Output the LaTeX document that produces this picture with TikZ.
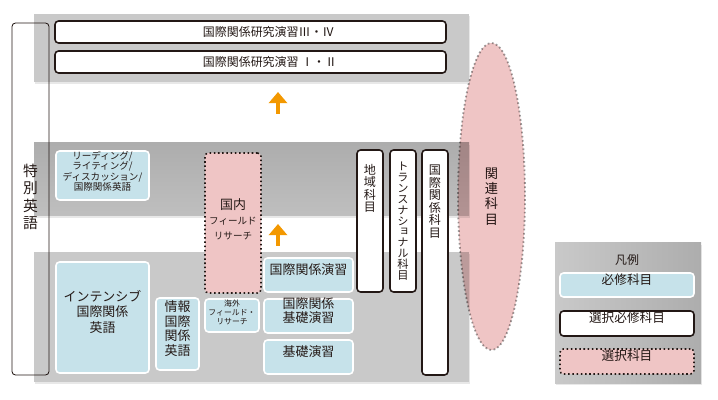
\documentclass[tikz,border=0pt]{standalone}
\usepackage{fontspec}
\setmainfont{Noto Sans CJK JP}
\newfontfamily\vfont[RawFeature=+vert]{Noto Sans CJK JP}
\usetikzlibrary{arrows.meta,positioning,shapes.geometric,fit,shadows}
\tikzset{>=Stealth}
\definecolor{reqblue}{HTML}{C6E2EA}
\definecolor{selpink}{HTML}{EFC5C5}
\definecolor{inkdark}{HTML}{231815}
\definecolor{panelgray}{HTML}{C9C9C9}
\definecolor{bandgray}{HTML}{ADADAD}
\definecolor{dotgray}{HTML}{A0A0A0}
\definecolor{arroworange}{HTML}{F39800}

\begin{document}
\begin{tikzpicture}[x=0.025cm, y=-0.025cm,
    every node/.style={font=\fontsize{8.5}{10}\selectfont, text=inkdark},
    box/.style={rounded corners=2.5pt, inner sep=0pt, align=center},
    req/.style={box, fill=reqblue, draw=white, line width=1.1pt},
    selreq/.style={box, fill=white, draw=inkdark, line width=1.1pt},
    elect/.style={box, fill=selpink, draw=inkdark, line width=1.1pt, dash pattern=on 1.1pt off 1.9pt},
    panel/.style={drop shadow={shadow xshift=1pt, shadow yshift=-1.5pt, opacity=.18}},
    vlabel/.style={inner sep=0pt, align=center},
    uparrow/.style={->, draw=arroworange, line width=2.8pt, >={Triangle[width=13pt,length=8pt]}}
  ]
    \useasboundingbox (0,0) rectangle (718,400);

    % panels
    \fill[panelgray, panel] (34,14) rectangle (469,82);
    \shade[top color=bandgray, bottom color=panelgray!95!black, panel] (34,143) rectangle (469,216);
    \fill[panelgray, panel] (34,252) rectangle (469,382);
    \shade[left color=panelgray, right color=bandgray, panel] (555,243) rectangle (701,383);

    % seminars
    \node[selreq, fit={(55,21) (446,43)}] (sem34) {};
    \node[anchor=west] (sem34t) at (198,32) {国際関係研究演習Ⅲ・Ⅳ};
    \node[selreq, fit={(55,51) (446,73)}] (sem12) {};
    \node[anchor=west] (sem12t) at (198,62) {国際関係研究演習 Ⅰ・Ⅱ};

    \coordinate (up1s) at (278,114);
    \coordinate (up1e) at (278,92);
    \draw[uparrow] (up1s) -- (up1e);
    \coordinate (up2s) at (278,246);
    \coordinate (up2e) at (278,224);
    \draw[uparrow] (up2s) -- (up2e);

    % english and basics
    \node[req, fit={(56,151) (149,200)}, font=\fontsize{6.8}{7.4}\selectfont] (reading)
      {リーディング/\\ライティング/\\ディスカッション/\\国際関係英語};
    \node[req, fit={(56,262) (149,373)}, font=\fontsize{9.2}{11.3}\selectfont] (intensive)
      {インテンシブ\\国際関係\\英語};
    \node[req, fit={(156,298) (199,370)}, font=\fontsize{9.2}{10.6}\selectfont] (joho)
      {情報\\国際\\関係\\英語};
    \node[elect, fit={(205,153) (261,293)}] (kokunai) {};
    \node[vlabel, font=\fontsize{6.8}{10.8}\selectfont] (kokunait) at (233,219)
      {{\fontsize{9.2}{10.8}\selectfont 国内}\\フィールド\\リサーチ};
    \node[req, fit={(205,299) (259,332)}, font=\fontsize{5.6}{6.4}\selectfont] (kaigai)
      {海外\\フィールド・\\リサーチ};
    \node[req, fit={(264,258) (353,292)}, font=\fontsize{9.2}{10.6}\selectfont] (ensyu) {国際関係演習};
    \node[req, fit={(264,299) (353,333)}, font=\fontsize{9.2}{10.6}\selectfont] (kisoir)
      {国際関係\\基礎演習};
    \node[req, fit={(264,340) (353,374)}, font=\fontsize{9.2}{10.6}\selectfont] (kiso) {基礎演習};

    % subject columns
    \node[selreq, fit={(357,150) (383,292)}] (chiiki) {};
    \node[vlabel, anchor=north, font=\vfont\fontsize{8.6}{8.9}\selectfont] (chiikit) at (370,164)
      {地\\域\\科\\目};
    \node[selreq, fit={(390,150) (416,292)}] (trans) {};
    \node[vlabel, anchor=north, font=\vfont\fontsize{8}{7.7}\selectfont] (transt) at (403,162)
      {ト\\ラ\\ン\\ス\\ナ\\シ\\ョ\\ナ\\ル\\科\\目};
    \node[selreq, fit={(422,150) (448,375)}] (kokusai) {};
    \node[vlabel, anchor=north, font=\vfont\fontsize{8.6}{8.9}\selectfont] (kokusait) at (435,165)
      {国\\際\\関\\係\\科\\目};

    % related subjects
    \begin{scope}[blend mode=multiply]
      \node[ellipse, fill=selpink, draw=dotgray, line width=1.3pt, dash pattern=on 1.2pt off 1.8pt,
        minimum width=1.675cm, minimum height=7.675cm, inner sep=0pt, align=center,
        font=\vfont\fontsize{9.4}{10.8}\selectfont] (kanren) at (491.5,196.5) {関\\連\\科\\目};
    \end{scope}

    \node[box, draw=inkdark, line width=.6pt, fit={(12,23) (49,375)}] (tokubetsu) {};
    \node[vlabel, font=\vfont\fontsize{10.5}{12.4}\selectfont] (tokubetsut) at (30.5,197)
      {特\\別\\英\\語};

    % legend
    \node (hanrei) at (627,260) {凡例};
    \node[req, fit={(560,273) (694,297)}, font=\fontsize{9}{10}\selectfont] (lgreq) {必修科目};
    \node[selreq, fit={(560,311) (694,336)}, font=\fontsize{9}{10}\selectfont] (lgselreq) {選択必修科目};
    \node[elect, fit={(560,349) (694,374)}, font=\fontsize{9}{10}\selectfont] (lgelect) {選択科目};
  \end{tikzpicture}
\end{document}
